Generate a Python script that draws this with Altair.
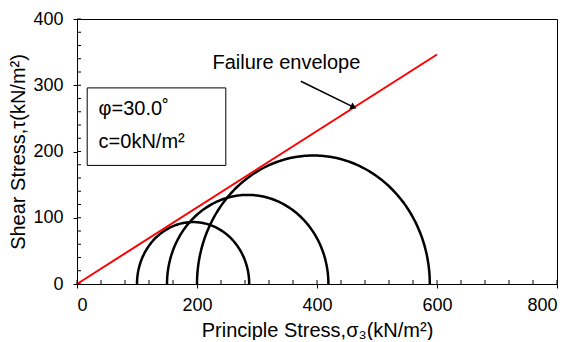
import altair as alt
import pandas as pd
import numpy as np

# Mohr circles: minor / major principal stresses (kN/m²)
sigma3 = [100, 150, 200]
sigma1 = [287, 419, 588]
# Failure envelope
phi_deg = 30.0
envelope_x = [0, 600]
# tick values
x_major = [0, 200, 400, 600, 800]
y_major = [0, 100, 200, 300, 400]
x_minor = list(range(0, 801, 40))
y_minor = list(range(0, 401, 20))
# annotations
box_x = [17, 248]
box_y = [179, 296]
labels_text = ["φ=30.0˚", "c=0kN/m²"]
labels_x = [36, 36]
labels_y = [264, 214]
env_label = "Failure envelope"
env_label_xy = [349, 333]
arrow_start = [373, 306]
arrow_end = [461, 267]

W, H = 480, 265
FONT = "Liberation Sans"

xs = alt.Scale(domain=[0, 800], nice=False)
ys = alt.Scale(domain=[0, 400], nice=False)

rows = []
for i, (s3, s1) in enumerate(zip(sigma3, sigma1)):
    c = (s1 + s3) / 2
    r = (s1 - s3) / 2
    for k, t in enumerate(np.linspace(np.pi, 0, 181)):
        rows.append({"circle": i, "order": k, "x": c + r * np.cos(t), "y": r * np.sin(t)})
circ_df = pd.DataFrame(rows)

env_df = pd.DataFrame({"x": envelope_x,
                       "y": [v * np.tan(np.radians(phi_deg)) for v in envelope_x]})

base_x = alt.X("x:Q", scale=xs,
               axis=alt.Axis(values=x_major, title="Principle Stress,σ₃(kN/m²)",
                             labelFont=FONT, titleFont=FONT, labelFontSize=18,
                             titleFontSize=20, titleFontWeight="normal",
                             labelColor="black", titleColor="black",
                             domainColor="black", tickColor="black", tickSize=4,
                             grid=False, labelPadding=8, titlePadding=6))
base_y = alt.Y("y:Q", scale=ys,
               axis=alt.Axis(values=y_major, title="Shear Stress,τ(kN/m²)",
                             labelFont=FONT, titleFont=FONT, labelFontSize=18,
                             titleFontSize=20, titleFontWeight="normal",
                             labelColor="black", titleColor="black",
                             domainColor="black", tickColor="black", tickSize=4,
                             grid=False, labelPadding=10, titlePadding=4))

circles = alt.Chart(circ_df).mark_line(color="black", strokeWidth=2.5).encode(
    x=base_x, y=base_y, detail="circle:N", order="order:Q")

envelope = alt.Chart(env_df).mark_line(color="#ff0000", strokeWidth=2).encode(
    x=alt.X("x:Q", scale=xs), y=alt.Y("y:Q", scale=ys))

xt = alt.Chart(pd.DataFrame({"x": x_minor})).mark_rule(color="black", strokeWidth=1).encode(
    x=alt.X("x:Q", scale=xs), y=alt.value(H - 4), y2=alt.value(H))
yt = alt.Chart(pd.DataFrame({"y": y_minor})).mark_rule(color="black", strokeWidth=1).encode(
    y=alt.Y("y:Q", scale=ys), x=alt.value(0), x2=alt.value(4))

box = alt.Chart(pd.DataFrame({"x": [box_x[0]], "x2": [box_x[1]],
                              "y": [box_y[0]], "y2": [box_y[1]]})).mark_rect(
    fill="white", stroke="black", strokeWidth=1).encode(
    x=alt.X("x:Q", scale=xs), x2="x2:Q", y=alt.Y("y:Q", scale=ys), y2="y2:Q")

box_text = alt.Chart(pd.DataFrame({"t": labels_text, "x": labels_x, "y": labels_y})).mark_text(
    align="left", baseline="middle", font=FONT, fontSize=20, color="black").encode(
    x=alt.X("x:Q", scale=xs), y=alt.Y("y:Q", scale=ys), text="t:N")

env_text = alt.Chart(pd.DataFrame({"t": [env_label], "x": [env_label_xy[0]],
                                   "y": [env_label_xy[1]]})).mark_text(
    align="center", baseline="middle", font=FONT, fontSize=20, color="black").encode(
    x=alt.X("x:Q", scale=xs), y=alt.Y("y:Q", scale=ys), text="t:N")

arrow_line = alt.Chart(pd.DataFrame({"x": [arrow_start[0]], "y": [arrow_start[1]],
                                     "x2": [arrow_end[0]], "y2": [arrow_end[1]]})).mark_rule(
    color="black", strokeWidth=1.5).encode(
    x=alt.X("x:Q", scale=xs), y=alt.Y("y:Q", scale=ys), x2="x2:Q", y2="y2:Q")

arrow_head = alt.Chart(pd.DataFrame({"x": [arrow_end[0]], "y": [arrow_end[1]]})).mark_point(
    shape="triangle-right", filled=True, color="black", size=50, angle=26, opacity=1).encode(
    x=alt.X("x:Q", scale=xs), y=alt.Y("y:Q", scale=ys))

chart = alt.layer(circles, envelope, xt, yt, box, box_text, env_text,
                  arrow_line, arrow_head).properties(
    width=W, height=H, padding={"left": 0, "top": 2, "right": 5, "bottom": 0},
    background="white"
).configure_view(stroke="black", strokeWidth=1)

chart.save("out.html", embed_options={"renderer": "svg", "actions": False})
